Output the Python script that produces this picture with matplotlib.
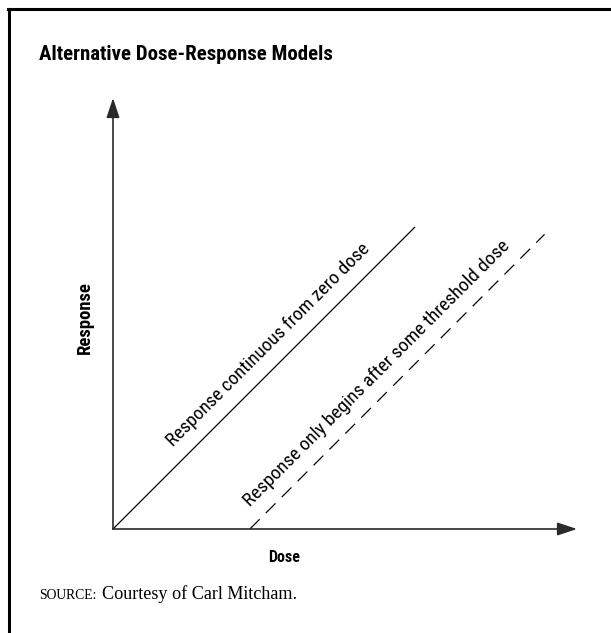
import matplotlib
matplotlib.use("Agg")
import matplotlib.pyplot as plt
from matplotlib.lines import Line2D

# ---- dados (modelo conceitual) ----
dose_continuo = [0.0, 6.5]
resp_continuo = [0.0, 6.5]

dose_limiar = [2.95, 9.3]
resp_limiar = [0.0, 6.35]

titulo = "Alternative Dose-Response Models"
rotulo_x = "Dose"
rotulo_y = "Response"
texto_continuo = "Response continuous from zero dose"
texto_limiar = "Response only begins after some threshold dose"
fonte_txt = "Courtesy of Carl Mitcham."

# ---- fontes ----
estreita = ["Roboto Condensed", "DejaVu Sans"]
serifa = ["Liberation Serif", "DejaVu Serif"]

W, H = 611, 633
fig = plt.figure(figsize=(W / 100, H / 100), dpi=100)
render = fig.canvas.get_renderer()


def ajustar(t, largura):
    # ajusta o tamanho da fonte para a largura (px) medida na figura original
    rot = t.get_rotation()
    t.set_rotation(0)
    w = t.get_window_extent(render).width
    t.set_fontsize(t.get_fontsize() * largura / w)
    t.set_rotation(rot)
    return t


# eixo: origem em (113, 529) px, 46.4 px por unidade
px = 46.4
ox, oy = 113, 529
xmax, ymax = 464 / px, 431 / px
ax = fig.add_axes([ox / W, (H - oy) / H, 464 / W, 431 / H])
ax.set_xlim(0, xmax)
ax.set_ylim(0, ymax)
ax.axis("off")

seta = dict(arrowstyle="-|>,head_length=0.6,head_width=0.2", color="#2a2a2a",
            lw=1.2, mutation_scale=20, shrinkA=0, shrinkB=0)
ax.annotate("", xy=(xmax, 0), xytext=(0, 0), arrowprops=seta, annotation_clip=False)
ax.annotate("", xy=(0, ymax), xytext=(0, 0), arrowprops=seta, annotation_clip=False)

ax.plot(dose_continuo, resp_continuo, color="black", lw=0.9, clip_on=False)
ax.plot(dose_limiar, resp_limiar, color="black", lw=0.9, dashes=(11, 7), clip_on=False)

t = ax.text(3.43, 3.89, texto_continuo, rotation=45, rotation_mode="anchor",
            ha="center", va="baseline", fontsize=12, family=estreita)
ajustar(t, 280)
t = ax.text(5.77, 3.28, texto_limiar, rotation=45, rotation_mode="anchor",
            ha="center", va="baseline", fontsize=12, family=estreita)
ajustar(t, 368)

# rótulos
t = fig.text(284 / W, 1 - 557 / H, rotulo_x, ha="center", va="center",
             fontsize=10.5, fontweight="bold", family=estreita)
ajustar(t, 32)
t = fig.text(85 / W, 1 - 318 / H, rotulo_y, ha="center", va="center", rotation=90,
             fontsize=10.5, fontweight="bold", family=estreita)
ajustar(t, 73)
t = fig.text(39 / W, 1 - 60 / H, titulo, ha="left", va="baseline",
             fontsize=15, fontweight="heavy", family=estreita)
ajustar(t, 294)

# fonte (SOURCE em versalete)
t1 = fig.text(39 / W, 1 - 599 / H, "SOURCE:", ha="left", va="baseline",
              fontsize=10, family=serifa)
ajustar(t1, 58)
t2 = fig.text(102 / W, 1 - 599 / H, fonte_txt, ha="left",
              va="baseline", fontsize=13, family=serifa)
ajustar(t2, 195)

# moldura (esquerda e topo)
fig.add_artist(Line2D([9 / W, 9 / W], [0, 1 - 9 / H], color="black", lw=2.2,
                      transform=fig.transFigure))
fig.add_artist(Line2D([9 / W - 0.0015, 1], [1 - 9 / H, 1 - 9 / H], color="black",
                      lw=2.2, transform=fig.transFigure))

fig.savefig("out.png", dpi=100)
